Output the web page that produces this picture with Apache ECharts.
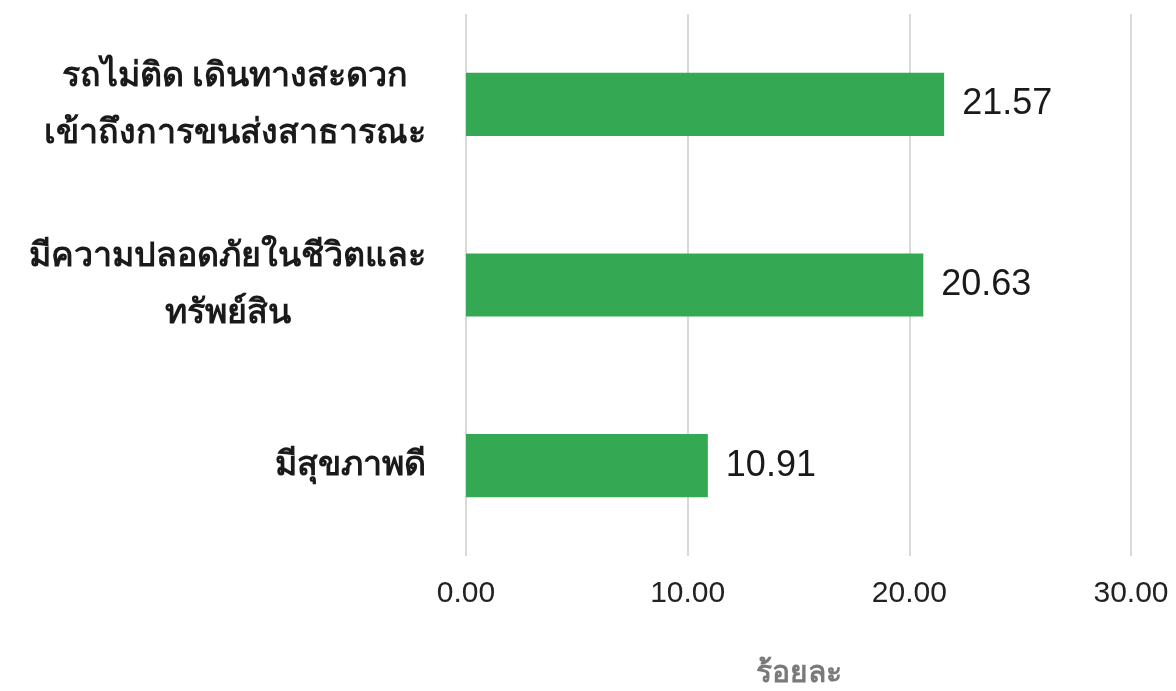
<!DOCTYPE html>
<html>
<head>
<meta charset="utf-8">
<script src="https://cdn.jsdelivr.net/npm/echarts@6/dist/echarts.min.js"></script>
<style>
html,body{margin:0;padding:0;background:#fff;}
#chart{width:1176px;height:691px;}
</style>
</head>
<body>
<div id="chart"></div>
<script>
const categories = [
  "รถไม่ติด เดินทางสะดวก\nเข้าถึงการขนส่งสาธารณะ",
  "มีความปลอดภัยในชีวิตและ\nทรัพย์สิน",
  "มีสุขภาพดี"
];
const values = [21.57, 20.63, 10.91];
const xTicks = { min: 0, max: 30, interval: 10 };
const axisName = "ร้อยละ";

const chart = echarts.init(document.getElementById('chart'));
chart.setOption({
  animation: false,
  backgroundColor: '#ffffff',
  grid: { left: 466, right: 45, top: 14, bottom: 135, containLabel: false, outerBoundsMode: 'none' },
  xAxis: {
    type: 'value',
    min: xTicks.min, max: xTicks.max, interval: xTicks.interval,
    name: axisName,
    nameLocation: 'middle',
    nameGap: 102,
    nameTextStyle: { color: '#7a7a7a', fontSize: 30, fontWeight: 'bold', fontFamily: 'Noto Sans, sans-serif' },
    axisLine: { show: false },
    axisTick: { show: false },
    axisLabel: {
      color: '#222', fontSize: 30, margin: 23,
      fontFamily: 'Liberation Sans, Arial, sans-serif',
      formatter: v => v.toFixed(2)
    },
    splitLine: { show: true, lineStyle: { color: '#d9d9d9', width: 2 } }
  },
  yAxis: {
    type: 'category',
    inverse: true,
    data: categories,
    axisLine: { show: false },
    axisTick: { show: false },
    axisLabel: {
      margin: 40,
      align: 'right',
      formatter: v => v.split('\n').map(s => '{c|' + s + '}').join('\n'),
      rich: {
        c: { align: 'center', color: '#1a1a1a', fontSize: 34, fontWeight: 600, lineHeight: 57, fontFamily: 'Noto Sans, sans-serif' }
      }
    }
  },
  series: [{
    type: 'bar',
    data: values,
    barWidth: '35%',
    itemStyle: { color: '#34a853' },
    label: {
      show: true, position: 'right', distance: 18,
      color: '#1a1a1a', fontSize: 36,
      fontFamily: 'Liberation Sans, Arial, sans-serif',
      formatter: p => p.value.toFixed(2)
    }
  }]
});
</script>
</body>
</html>
